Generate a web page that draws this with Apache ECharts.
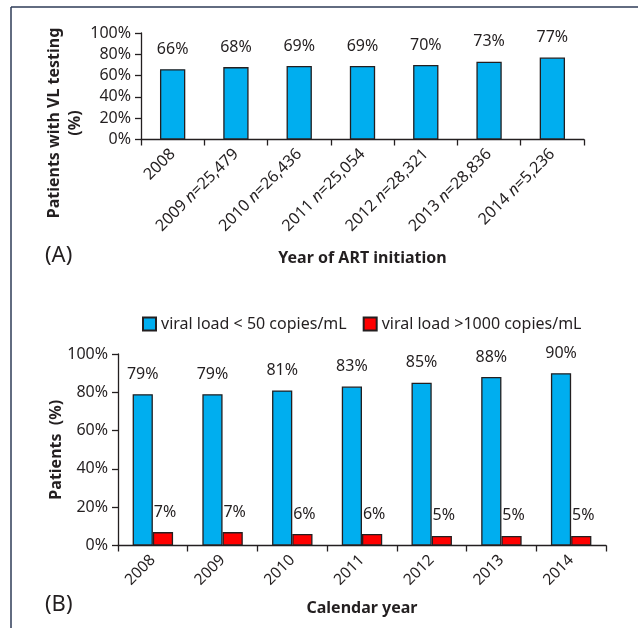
<!DOCTYPE html>
<html>
<head>
<meta charset="utf-8">
<script src="https://cdn.jsdelivr.net/npm/echarts@6/dist/echarts.min.js"></script>
<style>
  html, body { margin: 0; padding: 0; background: #fff; }
  #chart { width: 638px; height: 628px; }
</style>
</head>
<body>
<div id="chart"></div>
<script>
// Panel A: share of patients with viral load testing, by year of ART initiation
const initYears = ['2008', '2009', '2010', '2011', '2012', '2013', '2014'];
const initCounts = ['', '25,479', '26,436', '25,054', '28,321', '28,836', '5,236'];
const vlTested = [66, 68, 69, 69, 70, 73, 77];

// Panel B: viral load outcomes by calendar year
const calYears = ['2008', '2009', '2010', '2011', '2012', '2013', '2014'];
const below50 = [79, 79, 81, 83, 85, 88, 90];
const above1000 = [7, 7, 6, 6, 5, 5, 5];

const pctTicks = [0, 20, 40, 60, 80, 100];

const INK = '#231f20';
const BLUE = '#00aeef';
const RED = '#ff0000';
const FONT = '"Noto Sans", sans-serif';

const axisLine = { show: true, lineStyle: { color: INK, width: 1.3 } };
const axisTick = { show: true, length: 6, lineStyle: { color: INK, width: 1.3 } };

const chart = echarts.init(document.getElementById('chart'), null, { renderer: 'canvas' });

const topCategories = initYears.map((y, i) => initCounts[i] ? y + '|' + initCounts[i] : y);

const option = {
  backgroundColor: '#fff',
  textStyle: { fontFamily: FONT, color: INK },
  animation: false,
  grid: [
    { left: 141, right: 54, top: 33, height: 106.5, containLabel: false },
    { left: 118, right: 32, top: 354, height: 191.5, containLabel: false }
  ],
  legend: {
    data: ['viral load < 50 copies/mL', 'viral load >1000 copies/mL'],
    left: 137, top: 311,
    itemWidth: 13, itemHeight: 13, itemGap: 16,
    icon: 'rect',
    textStyle: { fontSize: 16, color: INK, fontFamily: FONT }
  },
  xAxis: [
    {
      type: 'category', gridIndex: 0, data: topCategories,
      axisLine, axisTick: Object.assign({}, axisTick, { alignWithLabel: false }),
      axisLabel: {
        rotate: 45, margin: 12, fontSize: 16, color: INK, interval: 0,
        formatter: v => {
          const parts = v.split('|');
          return parts.length > 1 ? '{a|' + parts[0] + ' }{i|n}{a|=' + parts[1] + '}' : '{a|' + v + '}';
        },
        rich: {
          a: { fontSize: 16, color: INK, fontFamily: FONT },
          i: { fontSize: 16, color: INK, fontFamily: FONT, fontStyle: 'italic' }
        }
      },
      name: 'Year of ART initiation', nameLocation: 'middle', nameGap: 111,
      nameTextStyle: { fontSize: 16, fontWeight: 'bold', color: INK, fontFamily: FONT }
    },
    {
      type: 'category', gridIndex: 1, data: calYears,
      axisLine, axisTick,
      axisLabel: { rotate: 45, margin: 12, fontSize: 15.5, color: INK, interval: 0 },
      name: 'Calendar year', nameLocation: 'middle', nameGap: 55,
      nameTextStyle: { fontSize: 16, fontWeight: 'bold', color: INK, fontFamily: FONT }
    }
  ],
  yAxis: [
    {
      type: 'value', gridIndex: 0, min: pctTicks[0], max: pctTicks[pctTicks.length - 1], interval: 20,
      axisLine, axisTick, splitLine: { show: false },
      axisLabel: { formatter: '{value}%', fontSize: 16, color: INK, margin: 10 }
    },
    {
      type: 'value', gridIndex: 1, min: pctTicks[0], max: pctTicks[pctTicks.length - 1], interval: 20,
      axisLine, axisTick, splitLine: { show: false },
      axisLabel: { formatter: '{value}%', fontSize: 16, color: INK, margin: 10 },
      name: 'Patients  (%)', nameLocation: 'middle', nameGap: 54, nameMoveOverlap: false,
      nameTextStyle: { fontSize: 16, fontWeight: 'bold', color: INK, fontFamily: FONT }
    }
  ],
  series: [
    {
      name: 'VL testing', type: 'bar', xAxisIndex: 0, yAxisIndex: 0,
      data: vlTested, barWidth: '40%',
      itemStyle: { color: BLUE, borderColor: INK, borderWidth: 1.3 },
      label: { show: true, position: 'top', distance: 12, formatter: '{c}%', fontSize: 16, color: INK, fontFamily: FONT }
    },
    {
      name: 'viral load < 50 copies/mL', type: 'bar', xAxisIndex: 1, yAxisIndex: 1,
      data: below50, barWidth: '29%', barGap: '0%',
      itemStyle: { color: BLUE, borderColor: INK, borderWidth: 1.3 },
      label: { show: true, position: 'top', distance: 12, formatter: '{c}%', fontSize: 16, color: INK, fontFamily: FONT }
    },
    {
      name: 'viral load >1000 copies/mL', type: 'bar', xAxisIndex: 1, yAxisIndex: 1,
      data: above1000, barWidth: '29%', barGap: '0%',
      itemStyle: { color: RED, borderColor: INK, borderWidth: 1.3 },
      label: { show: true, position: 'top', distance: 12, offset: [2, 0], formatter: '{c}%', fontSize: 16, color: INK, fontFamily: FONT }
    }
  ],
  graphic: [
    // panel frame (left and top rules)
    { type: 'line', shape: { x1: 11, y1: 7, x2: 11, y2: 628 }, style: { stroke: '#2e3b57', lineWidth: 1.5 } },
    { type: 'line', shape: { x1: 11, y1: 7, x2: 638, y2: 7 }, style: { stroke: '#2e3b57', lineWidth: 1.5 } },
    // panel A y-axis title (two lines)
    {
      type: 'text', x: 65, y: 123, rotation: Math.PI / 2,
      style: {
        text: 'Patients with VL testing\n(%)', textAlign: 'center', textVerticalAlign: 'middle',
        font: 'bold 16px ' + FONT, fill: INK, lineHeight: 21
      }
    },
    { type: 'text', x: 45, y: 256, style: { text: '(A)', font: '22px ' + FONT, fill: INK, textVerticalAlign: 'middle' } },
    { type: 'text', x: 45, y: 605, style: { text: '(B)', font: '22px ' + FONT, fill: INK, textVerticalAlign: 'middle' } }
  ]
};

chart.setOption(option);
</script>
</body>
</html>
